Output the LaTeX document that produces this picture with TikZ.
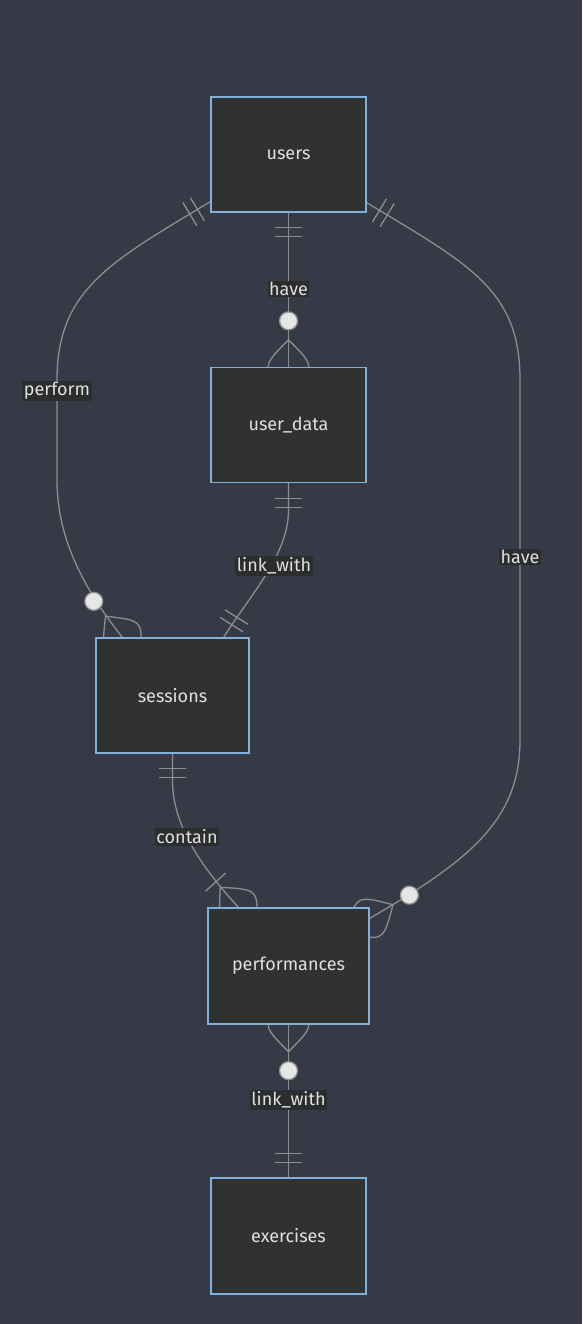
\documentclass[tikz,border=0pt]{standalone}
\usepackage{fontspec}
\setmainfont{Fira Sans}
\usetikzlibrary{calc}
\pgfdeclarelayer{bg}
\pgfdeclarelayer{edges}
\pgfsetlayers{bg,edges,main}
\definecolor{bgc}{HTML}{363A47}
\definecolor{nodefill}{HTML}{303131}
\definecolor{nodeborder}{HTML}{81B1DB}
\definecolor{edgec}{HTML}{8E8E8E}
\definecolor{txt}{HTML}{E0E0E0}
\definecolor{lblbg}{HTML}{2C2D2D}
\definecolor{circfill}{HTML}{E6E6E6}
\tikzset{
  entity/.style={draw=nodeborder, fill=nodefill, line width=1.3pt, text=txt,
    font=\fontsize{18}{20}\selectfont, inner sep=0pt, minimum height=115pt},
  rel/.style={draw=edgec, line width=1.3pt},
  lbl/.style={fill=lblbg, text=txt, font=\fontsize{18}{20}\selectfont,
    inner xsep=1.5pt, inner ysep=1.5pt},
}
\newcommand{\mkone}[2]{%
  \begin{scope}[shift={#1}, rotate=#2]
    \draw[rel] (15,-13.5) -- (15,13.5) (24,-13.5) -- (24,13.5);
  \end{scope}}
\newcommand{\mkzeromany}[2]{%
  \begin{scope}[shift={#1}, rotate=#2]
    \draw[rel] (27,0) .. controls (0,27) .. (-27,0) .. controls (0,-27) .. (27,0);
    \draw[rel, fill=circfill] (46,0) circle (9pt);
  \end{scope}}
\newcommand{\mkonemany}[2]{%
  \begin{scope}[shift={#1}, rotate=#2]
    \draw[rel] (27,0) .. controls (0,27) .. (-27,0) .. controls (0,-27) .. (27,0);
    \draw[rel] (34,-13.5) -- (34,13.5);
  \end{scope}}
\begin{document}
\begin{tikzpicture}[x=1pt, y=-1pt]
\begin{pgfonlayer}{bg}
  \fill[bgc] (0,0) rectangle (582,1324);
\end{pgfonlayer}
\useasboundingbox (0,0) rectangle (582,1324);
% entities
\node[entity, minimum width=155pt] (users) at (288.5,154.5) {users};
\node[entity, minimum width=155pt] (user_data) at (288.5,425) {user\_data};
\node[entity, minimum width=153pt] (sessions) at (172.5,695.5) {sessions};
\node[entity, minimum width=161pt, minimum height=116pt] (performances) at (288.5,966) {performances};
\node[entity, minimum width=155pt, minimum height=116pt] (exercises) at (288.5,1236) {exercises};
% attachment points
\coordinate (uL) at ($(users.south west)+(0,-11)$);
\coordinate (uR) at ($(users.south east)+(0,-10)$);
\coordinate (sT1) at ($(sessions.north west)+(27,0)$);
\coordinate (sT2) at ($(sessions.north east)+(-26,0)$);
\coordinate (pR) at ($(performances.north east)+(0,11)$);
\coordinate (pT) at ($(performances.north west)+(31,0)$);
\begin{pgfonlayer}{edges}
  % users -- user_data
  \draw[rel] (users.south) -- (user_data.north);
  \mkone{(users.south)}{-90}
  \mkzeromany{(user_data.north)}{90}
  % users -- sessions (perform)
  \draw[rel] (uL) .. controls (110,262) and (57,290) .. (57,380) -- (57,480)
    .. controls (57,540) and (85,590) .. (sT1);
  \mkone{(uL)}{211.1}
  \mkzeromany{(sT1)}{128.4}
  % users -- performances (have)
  \draw[rel] (uR) .. controls (470,265) and (520,290) .. (520,380) -- (520,740)
    .. controls (520,820) and (470,860) .. (pR);
  \mkone{(uR)}{-31.2}
  \mkzeromany{(pR)}{30.3}
  % user_data -- sessions (link_with)
  \draw[rel] (user_data.south) -- (288.5,510) .. controls (288.5,555) and (250,595) .. (sT2);
  \mkone{(user_data.south)}{-90}
  \mkone{(sT2)}{57.9}
  % sessions -- performances (contain)
  \draw[rel] (sessions.south) -- (172.5,780) .. controls (172.5,825) and (200,865) .. (pT);
  \mkone{(sessions.south)}{-90}
  \mkonemany{(pT)}{132.2}
  % performances -- exercises (link_with)
  \draw[rel] (performances.south) -- (exercises.north);
  \mkzeromany{(performances.south)}{-90}
  \mkone{(exercises.north)}{90}
\end{pgfonlayer}
% labels
\node[lbl] (l1) at (288.5,289) {have};
\node[lbl] (l2) at (57,391) {perform};
\node[lbl] (l3) at (520,557) {have};
\node[lbl] (l4) at (274,566) {link\_with};
\node[lbl] (l5) at (187,837) {contain};
\node[lbl] (l6) at (288.5,1100) {link\_with};
\end{tikzpicture}
\end{document}
